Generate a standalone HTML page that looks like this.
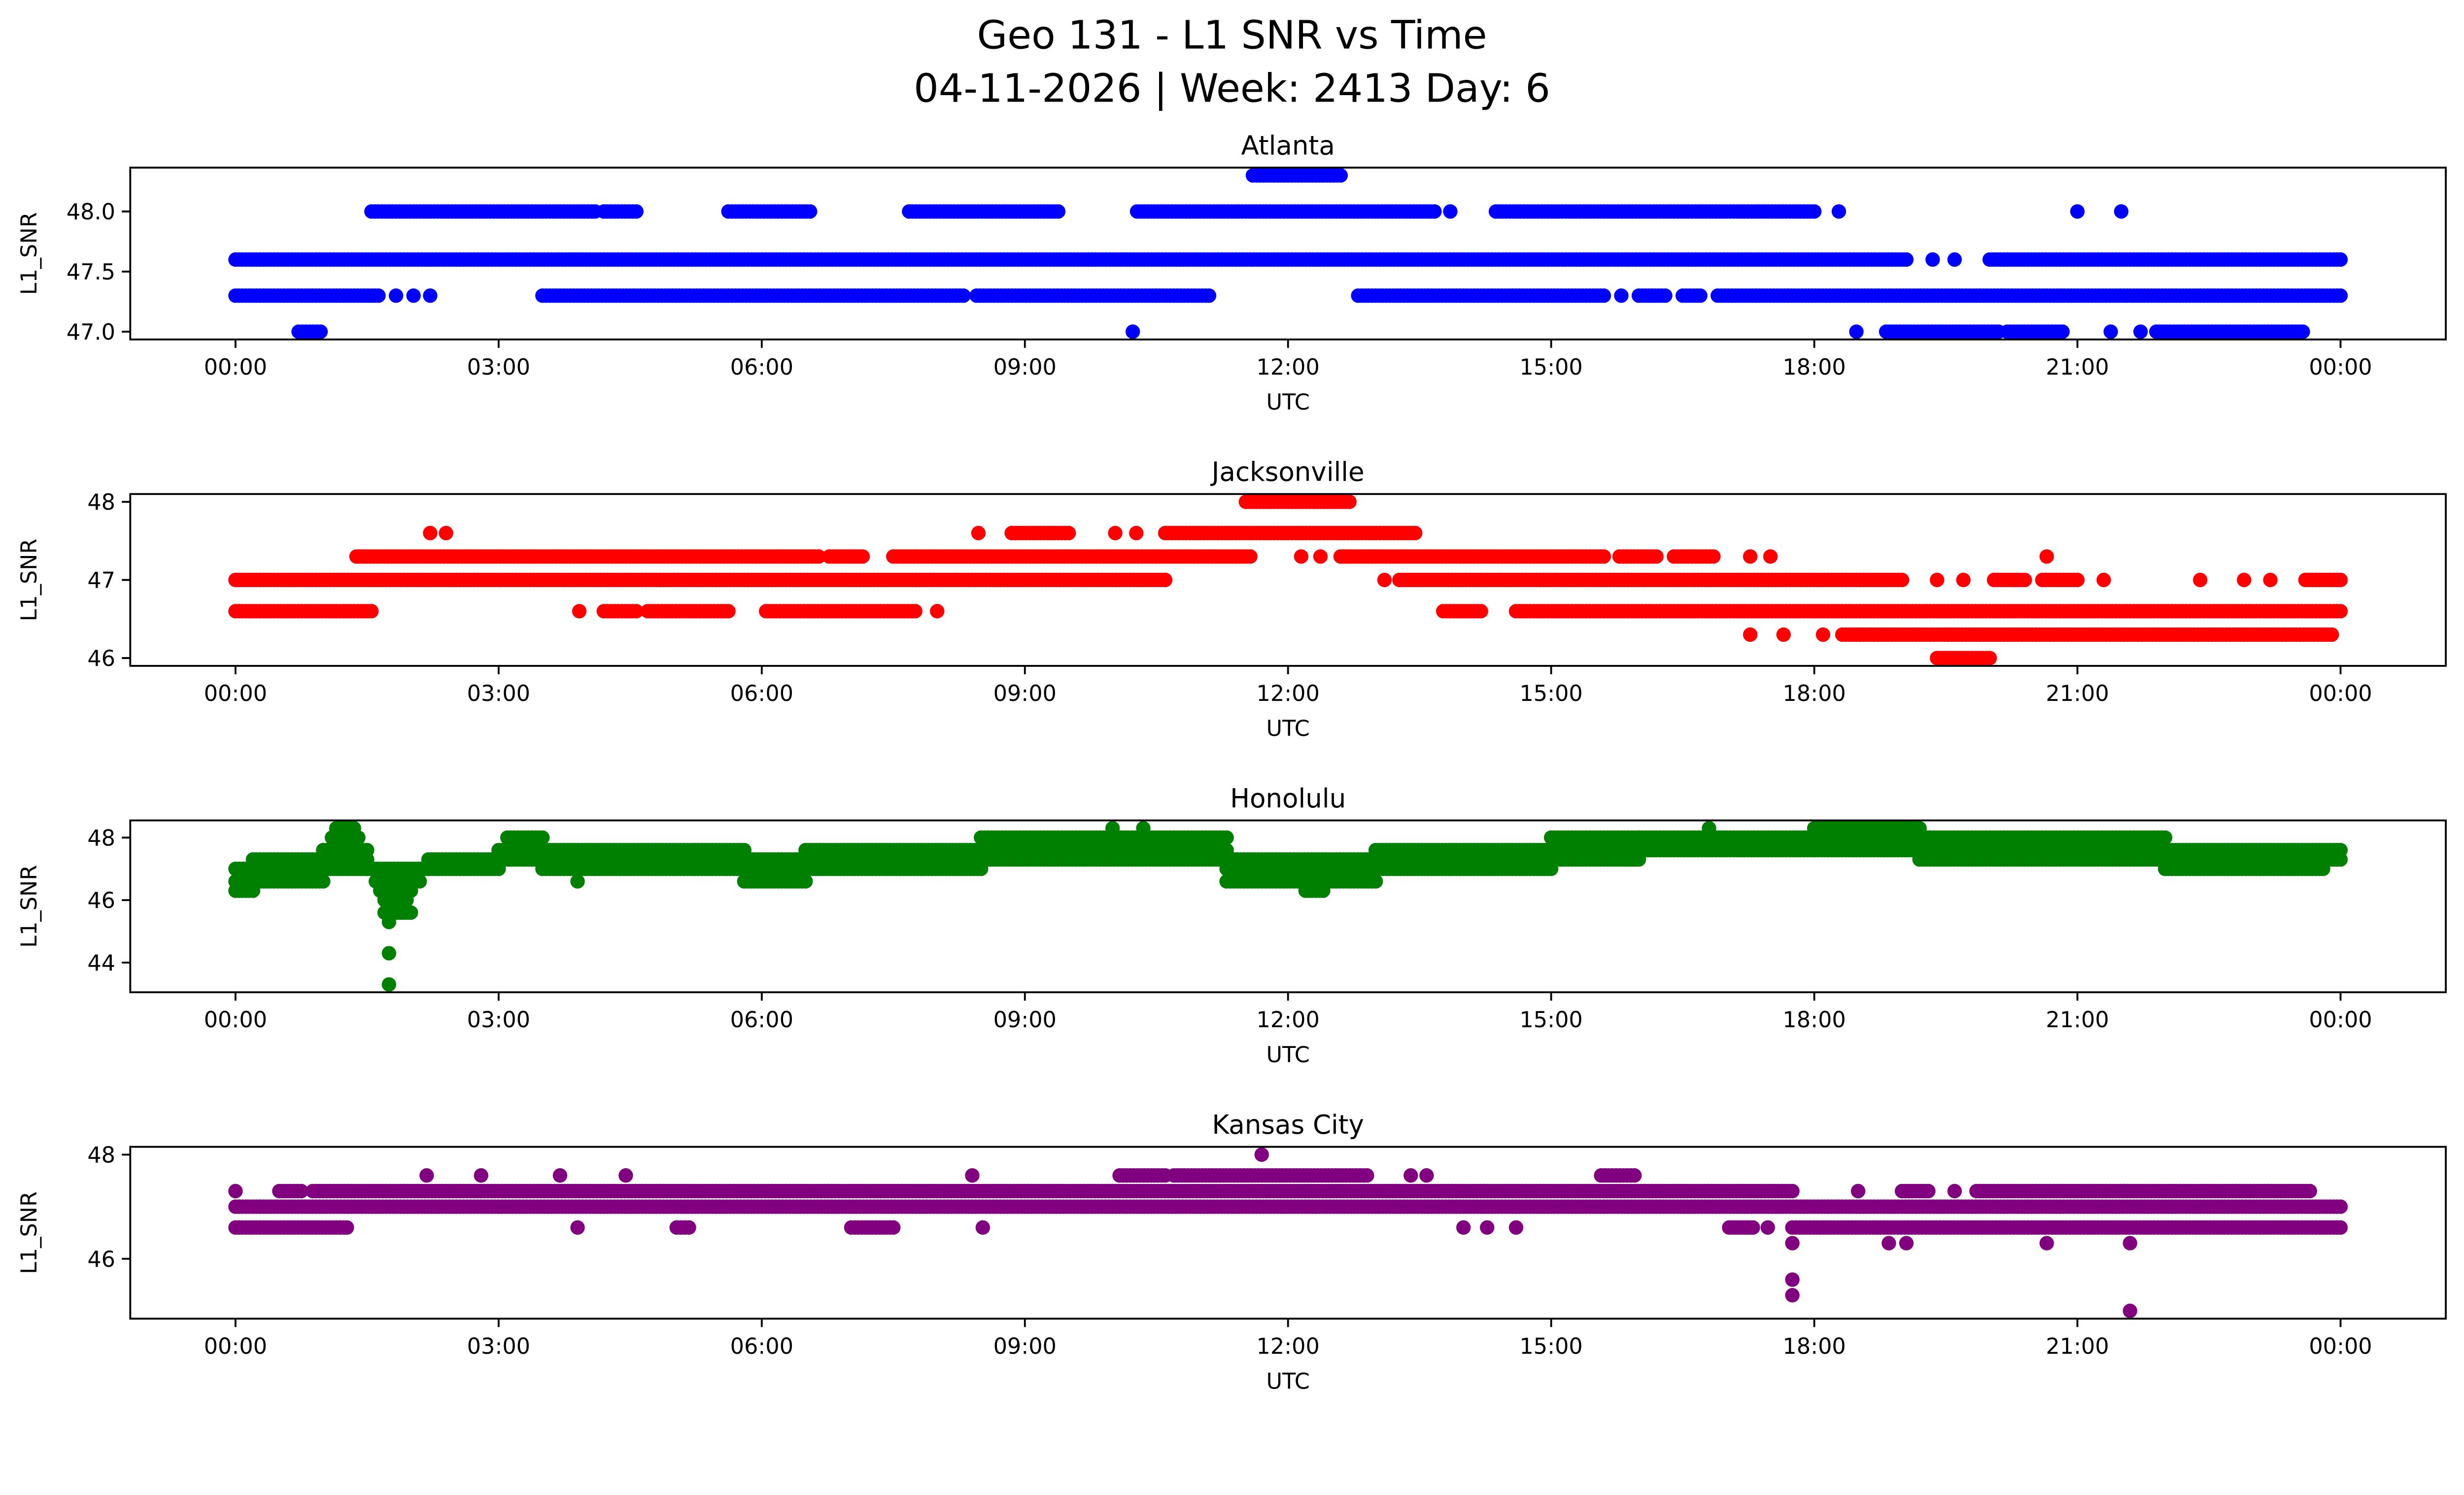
<!DOCTYPE html>
<html><head><meta charset="utf-8">
<style>
html,body{margin:0;padding:0;background:#fff;overflow:hidden;}
svg{display:block;width:100vw;height:57.465vw;font-family:"DejaVu Sans","Liberation Sans",sans-serif;}
</style></head>
<body>
<svg id="fig" xmlns="http://www.w3.org/2000/svg" viewBox="0 0 5278 3033" preserveAspectRatio="xMinYMin meet">
<rect x="0" y="0" width="5278" height="3033" fill="#fff"/>
<text x="2639" y="104" font-size="84" text-anchor="middle">Geo 131 - L1 SNR vs Time</text>
<text x="2639" y="218" font-size="84" text-anchor="middle">04-11-2026 | Week: 2413 Day: 6</text>
</svg>
<script>
// x tick labels (hours)
const xTickHours = [0, 3, 6, 9, 12, 15, 18, 21, 24];
const xTickLabels = ["00:00","03:00","06:00","09:00","12:00","15:00","18:00","21:00","00:00"];

// Atlanta segments (hours) and SNR levels
const atlantaStart = [0,19.35,19.6,20.0, 0,1.83,2.03,2.22,3.5,8.45,12.8,15.8,16.0,16.5,16.9, 1.55,4.2,5.62,7.68,10.28,13.85,14.37,18.28,21.0,21.5, 11.6, 0.72,10.23,18.48,18.82,20.2,21.38,21.72,21.9];
const atlantaEnd   = [19.05,19.35,19.6,24, 1.63,1.83,2.03,2.22,8.3,11.1,15.6,15.8,16.3,16.7,24, 4.1,4.57,6.55,9.38,13.67,13.85,18.0,18.28,21.0,21.5, 12.6, 0.97,10.23,18.48,20.1,20.83,21.38,21.72,23.57];
const atlantaLevel = [47.6,47.6,47.6,47.6, 47.3,47.3,47.3,47.3,47.3,47.3,47.3,47.3,47.3,47.3,47.3, 48.0,48.0,48.0,48.0,48.0,48.0,48.0,48.0,48.0,48.0, 48.3, 47.0,47.0,47.0,47.0,47.0,47.0,47.0,47.0];
const atlantaTicks = [47.0, 47.5, 48.0];
const atlantaTickLabels = ["47.0","47.5","48.0"];

// Jacksonville
const jaxStart = [0,3.92,4.2,4.7,6.05,8.0,13.77,14.6, 0,13.1,13.27,19.4,19.7,20.05,20.6,21.3,22.4,22.9,23.2,23.6, 1.38,6.77,7.5,12.15,12.37,12.6,15.78,16.4,17.27,17.5,20.65, 2.22,2.4,8.47,8.85,10.03,10.27,10.6, 11.52, 17.27,17.65,18.1,18.32, 19.4];
const jaxEnd   = [1.55,3.92,4.57,5.62,7.75,8.0,14.2,24, 10.6,13.1,19.0,19.4,19.7,20.4,21.0,21.3,22.4,22.9,23.2,24, 6.65,7.15,11.57,12.15,12.37,15.6,16.2,16.85,17.27,17.5,20.65, 2.22,2.4,8.47,9.5,10.03,10.27,13.45, 12.7, 17.27,17.65,18.1,23.9, 20.0];
const jaxLevel = [46.6,46.6,46.6,46.6,46.6,46.6,46.6,46.6, 47,47,47,47,47,47,47,47,47,47,47,47, 47.3,47.3,47.3,47.3,47.3,47.3,47.3,47.3,47.3,47.3,47.3, 47.6,47.6,47.6,47.6,47.6,47.6,47.6, 48.0, 46.3,46.3,46.3,46.3, 46.0];
const jaxTicks = [46, 47, 48];
const jaxTickLabels = ["46","47","48"];

// Honolulu
const honStart = [0,0,0,0.2, 1.0,1.0,1.0,1.1,1.15, 1.5,1.6,1.65,1.7,1.7,1.75,1.75,1.75,1.85, 2.2,2.2, 3.0,3.0,3.1, 3.5,3.5,3.5,3.9, 5.8,5.8,5.8, 6.5,6.5,6.5, 8.5,8.5,8.5,10.0,10.35, 11.3,11.3,11.3,12.2, 13.0,13.0,13.0, 15.0,15.0,15.0, 16.0,16.0,16.8,18.0, 19.2,19.2,19.2, 22.0,22.0,22.0];
const honEnd   = [0.2,1.0,1.0,1.0, 1.5,1.5,1.5,1.4,1.35, 2.2,2.1,2.0,1.95,1.9,1.75,1.75,1.75,2.0, 3.0,3.0, 3.5,3.5,3.5, 5.8,5.8,5.8,3.9, 6.5,6.5,6.5, 8.5,8.5,8.5, 11.3,11.3,11.3,10.0,10.35, 13.0,13.0,13.0,12.4, 15.0,15.0,15.0, 16.0,16.0,16.0, 19.2,19.2,16.8,19.2, 22.0,22.0,22.0, 23.8,24,24];
const honLevel = [46.3,46.6,47.0,47.3, 47.0,47.3,47.6,48.0,48.3, 47.0,46.6,46.3,46.0,45.6,45.3,44.3,43.3,45.6, 47.0,47.3, 47.3,47.6,48.0, 47.0,47.3,47.6,46.6, 46.6,47.0,47.3, 47.0,47.3,47.6, 47.3,47.6,48.0,48.3,48.3, 46.6,47.0,47.3,46.3, 47.0,47.3,47.6, 47.3,47.6,48.0, 47.6,48.0,48.3,48.3, 47.3,47.6,48.0, 47.0,47.3,47.6];
const honTicks = [44, 46, 48];
const honTickLabels = ["44","46","48"];

// Kansas City
const kcStart = [0, 0,3.9,5.03,7.02,8.52,14.0,14.27,14.6,17.03,17.47,17.75, 0,0.5,0.88,18.5,19.0,19.6,19.85, 2.18,2.8,3.7,4.45,8.4,10.08,10.7,13.4,13.58,15.57, 11.7, 17.75,18.85,19.05,20.65,21.6, 17.75,17.75,21.6];
const kcEnd   = [24, 1.27,3.9,5.17,7.5,8.52,14.0,14.27,14.6,17.3,17.47,24, 0,0.75,17.75,18.5,19.3,19.6,23.65, 2.18,2.8,3.7,4.45,8.4,10.6,12.9,13.4,13.58,15.95, 11.7, 17.75,18.85,19.05,20.65,21.6, 17.75,17.75,21.6];
const kcLevel = [47.0, 46.6,46.6,46.6,46.6,46.6,46.6,46.6,46.6,46.6,46.6,46.6, 47.3,47.3,47.3,47.3,47.3,47.3,47.3, 47.6,47.6,47.6,47.6,47.6,47.6,47.6,47.6,47.6,47.6, 48.0, 46.3,46.3,46.3,46.3,46.3, 45.6,45.3,45.0];
const kcTicks = [46, 48];
const kcTickLabels = ["46","48"];

const NS = "http://www.w3.org/2000/svg";
const svg = document.getElementById('fig');
const AX_L = 279, AX_R = 5239, AX_H = 368;
const XMIN = -1.2, XMAX = 25.2;
function xScale(h){ return AX_L + (h - XMIN) / (XMAX - XMIN) * (AX_R - AX_L); }
function mk(tag, attrs){ const e = document.createElementNS(NS, tag); for (const k in attrs) e.setAttribute(k, attrs[k]); return e; }

const panels = [
  {name:"atlanta", title:"Atlanta", top:359, ymin:46.935, ymax:48.365, color:"#0000ff", s:atlantaStart, e:atlantaEnd, v:atlantaLevel, ticks:atlantaTicks, tl:atlantaTickLabels},
  {name:"jacksonville", title:"Jacksonville", top:1058, ymin:45.9, ymax:48.1, color:"#ff0000", s:jaxStart, e:jaxEnd, v:jaxLevel, ticks:jaxTicks, tl:jaxTickLabels},
  {name:"honolulu", title:"Honolulu", top:1757, ymin:43.05, ymax:48.55, color:"#008000", s:honStart, e:honEnd, v:honLevel, ticks:honTicks, tl:honTickLabels},
  {name:"kansas-city", title:"Kansas City", top:2456, ymin:44.85, ymax:48.15, color:"#800080", s:kcStart, e:kcEnd, v:kcLevel, ticks:kcTicks, tl:kcTickLabels}
];

panels.forEach(p => {
  const g = mk('g', {});
  
  
  svg.appendChild(g);
  const yScale = v => p.top + (p.ymax - v) / (p.ymax - p.ymin) * AX_H;
  const bottom = p.top + AX_H;

  const pts = mk('g', {fill: p.color});
  
  
  g.appendChild(pts);
  for (let i = 0; i < p.s.length; i++) {
    const y = yScale(p.v[i]);
    const step = 0.04;
    const n = Math.max(0, Math.round((p.e[i] - p.s[i]) / step));
    for (let k = 0; k <= n; k++) {
      const h = n === 0 ? p.s[i] : p.s[i] + (p.e[i] - p.s[i]) * k / n;
      const c = mk('circle', {cx: xScale(h).toFixed(1), cy: y.toFixed(1), r: 15.5});
      
      
      pts.appendChild(c);
    }
  }

  const fr = mk('rect', {x: AX_L, y: p.top, width: AX_R - AX_L, height: AX_H, fill: 'none', stroke: '#000', 'stroke-width': 4});
  
  
  g.appendChild(fr);

  xTickHours.forEach((h, i) => {
    const x = xScale(h);
    const t = mk('line', {x1: x, x2: x, y1: bottom, y2: bottom + 18, stroke: '#000', 'stroke-width': 4});
    
    
    g.appendChild(t);
    const lb = mk('text', {x: x, y: bottom + 75, 'font-size': 47, 'text-anchor': 'middle'});
    
    
    lb.textContent = xTickLabels[i];
    g.appendChild(lb);
  });
  p.ticks.forEach((v, i) => {
    const y = yScale(v);
    const t = mk('line', {x1: AX_L - 18, x2: AX_L, y1: y, y2: y, stroke: '#000', 'stroke-width': 4});
    
    
    g.appendChild(t);
    const lb = mk('text', {x: AX_L - 32, y: y + 17, 'font-size': 47, 'text-anchor': 'end'});
    
    
    lb.textContent = p.tl[i];
    g.appendChild(lb);
  });
  const xl = mk('text', {x: (AX_L + AX_R) / 2, y: bottom + 150, 'font-size': 47, 'text-anchor': 'middle'});
  
  
  xl.textContent = 'UTC';
  g.appendChild(xl);
  const cy = p.top + AX_H / 2;
  const yl = mk('text', {x: 78, y: cy, 'font-size': 47, 'text-anchor': 'middle', transform: `rotate(-90 78 ${cy})`});
  
  
  yl.textContent = 'L1_SNR';
  g.appendChild(yl);
  const tt = mk('text', {x: (AX_L + AX_R) / 2, y: p.top - 28, 'font-size': 56, 'text-anchor': 'middle'});
  
  
  tt.textContent = p.title;
  g.appendChild(tt);
});
</script>
</body></html>
